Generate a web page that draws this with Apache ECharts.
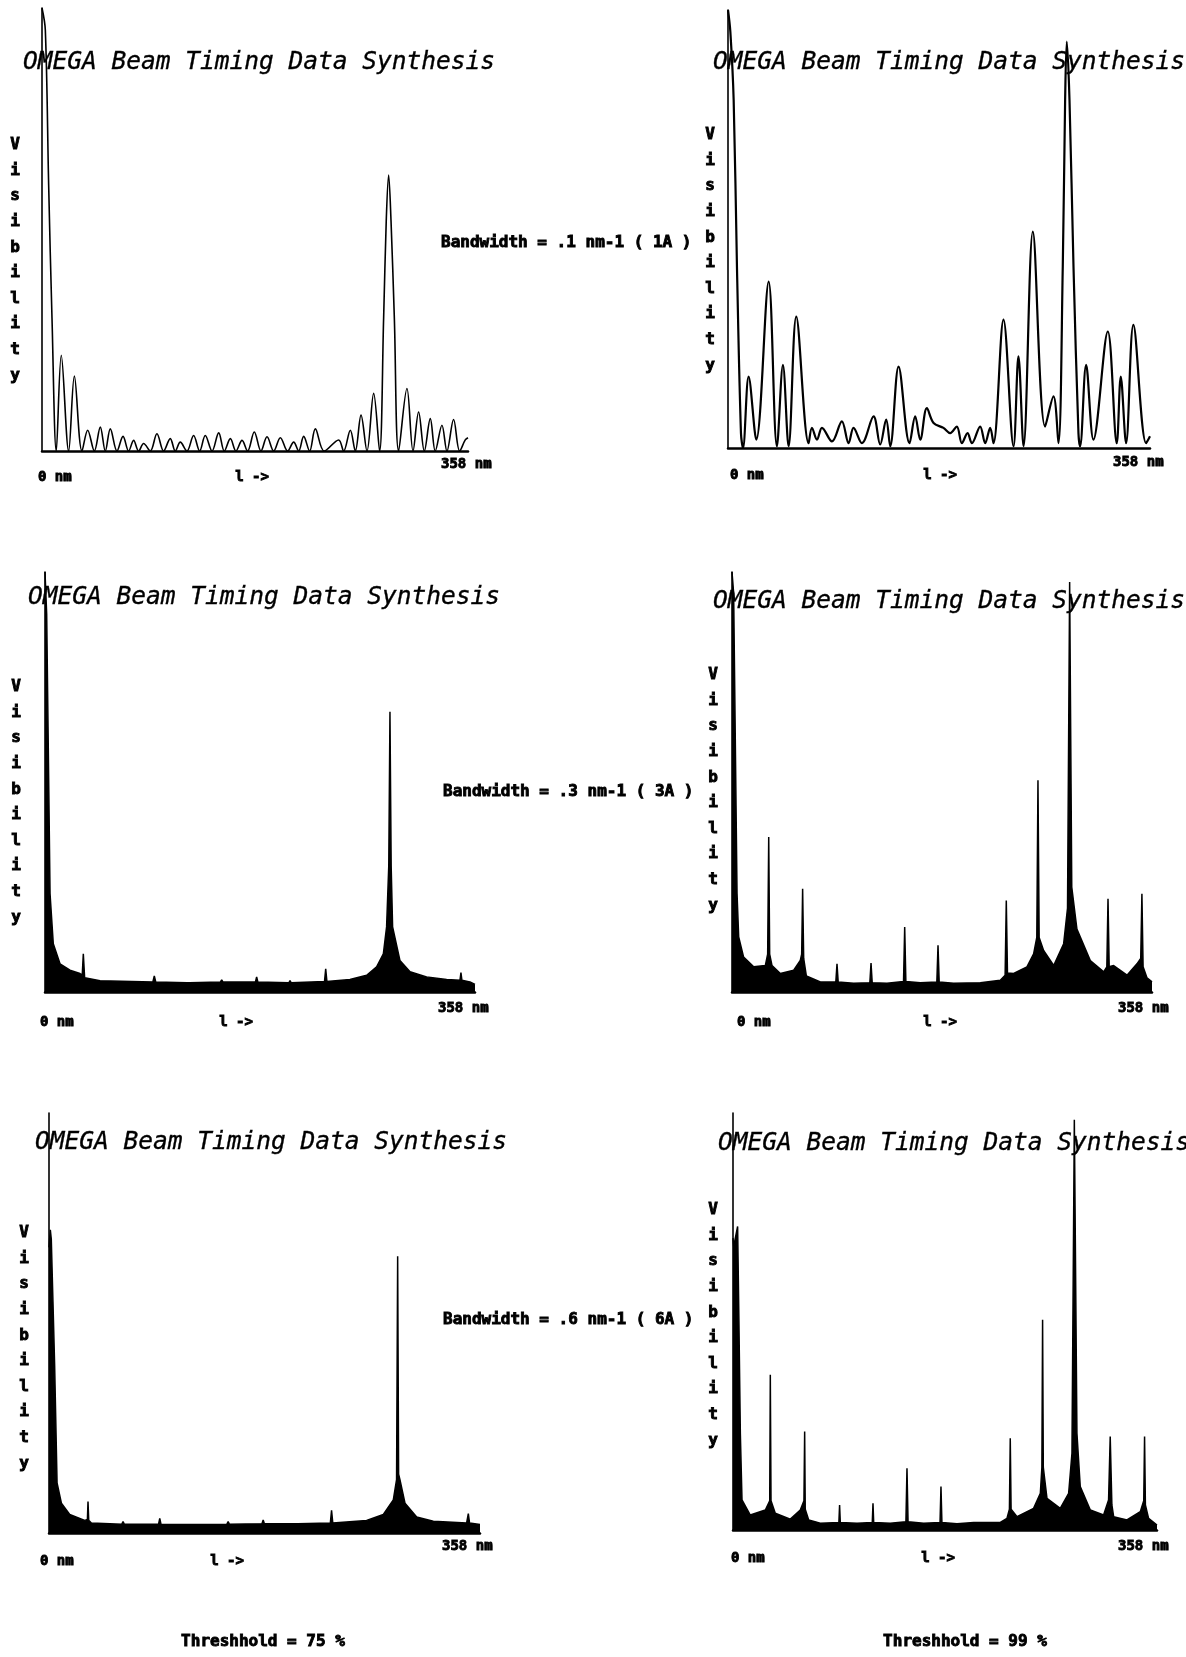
<!DOCTYPE html>
<html><head><meta charset="utf-8">
<script src="https://cdn.jsdelivr.net/npm/echarts@6/dist/echarts.min.js"></script>
<style>html,body{margin:0;padding:0;background:#fff}#c{width:1186px;height:1657px}</style>
</head><body><div id="c"></div>
<script>
// x = path difference (nm), y = visibility (fraction of axis height)
const p1Nm = [0,2.8,5.6,8.4,12.0,16.2,22.4,27.2,33.6,38.4,44.0,49.0,53.2,57.4,63.0,68.1,72.8,77.0,81.2,85.4,91.0,96.6,102.2,107.8,112.0,116.2,121.8,127.4,132.5,137.2,142.9,148.5,153.2,158.3,163.0,168.1,172.8,178.4,184.0,189.1,194.7,200.3,206.4,211.5,215.7,219.9,224.9,229.7,237.2,249.3,253.5,259.1,263.3,268.1,273.1,278.7,283.7,287.1,289.3,291.3,293.3,296.1,299.7,306.7,311.8,316.5,321.3,326.3,330.5,336.1,340.3,345.9,351.0,355.7,358];
const p1Vis = [1.0,0.95,0.6,0.3,0.0,0.216,0.0,0.169,0.0,0.047,0.0,0.054,0.0,0.05,0.0,0.033,0.0,0.024,0.0,0.017,0.0,0.039,0.0,0.028,0.0,0.02,0.0,0.035,0.0,0.035,0.0,0.041,0.0,0.028,0.0,0.024,0.0,0.043,0.0,0.032,0.0,0.030,0.0,0.02,0.0,0.033,0.0,0.05,0.0,0.025,0.0,0.047,0.0,0.081,0.0,0.130,0.0,0.3,0.52,0.623,0.52,0.3,0.0,0.141,0.0,0.088,0.0,0.073,0.0,0.058,0.0,0.071,0.0,0.025,0.03];

const p2Nm = [0,2.0,4.8,7.6,11.0,12.7,17.5,24.0,34.5,41.5,46.6,51.4,57.9,68.4,71.2,75.5,79.7,88.2,96.6,102.3,106.5,113.6,123.5,129.1,134.2,137.6,144.7,154.0,158.8,163.1,168.7,174.4,182.8,188.5,194.1,198.4,203.2,206.9,213.9,218.2,222.4,225.2,233.7,242.2,246.4,250.7,258.6,269.0,276.1,280.3,284.0,286.0,287.4,289.7,293.1,297.3,298.7,303.8,310.0,322.2,329.8,333.2,337.7,343.9,354.7,358];
const p2Vis = [1.0,0.95,0.795,0.414,0.034,0.0,0.163,0.019,0.380,0.004,0.190,0.004,0.300,0.011,0.046,0.019,0.046,0.015,0.061,0.011,0.046,0.011,0.072,0.008,0.065,0.004,0.186,0.011,0.072,0.019,0.091,0.057,0.046,0.034,0.049,0.011,0.034,0.011,0.049,0.011,0.046,0.011,0.293,0.004,0.209,0.004,0.494,0.049,0.118,0.011,0.414,0.795,0.928,0.795,0.414,0.034,0.004,0.190,0.019,0.266,0.011,0.163,0.011,0.281,0.011,0.027];

const p3Nm = [0,1.4,4.2,6.9,12.5,20.8,29.1,31.0,31.9,33.0,45.8,89.8,91.0,92.2,118.3,119.3,120.3,146.1,147.1,148.1,175.2,176.2,177.2,203.0,204.0,205.0,232.7,233.7,234.7,253.9,267.8,276.1,281.7,284.4,286.2,287.2,288.2,289.4,295.5,303.9,317.7,334.4,345.5,346.3,347.1,353.8,358];
const p3Vis = [1.0,0.9,0.234,0.115,0.067,0.052,0.044,0.04,0.091,0.034,0.027,0.024,0.038,0.024,0.022,0.025,0.022,0.024,0.029,0.024,0.024,0.036,0.024,0.022,0.027,0.022,0.025,0.055,0.025,0.030,0.040,0.060,0.091,0.155,0.30,0.667,0.30,0.155,0.075,0.048,0.036,0.030,0.028,0.046,0.028,0.024,0.018];

const p4Nm = [0,1.4,4.3,5.7,9.9,18.5,28.4,30.4,31.3,32.1,34.1,41.2,52.6,58.2,59.4,60.2,61.1,63.4,75.3,88.5,89.5,90.5,103.7,117.5,118.5,119.5,132.1,146.2,147.2,148.2,160.5,174.6,175.6,176.6,188.9,211.7,228.7,232.8,233.8,234.8,240.1,251.4,257.1,259.8,260.8,261.8,265.6,274.2,282.7,286.0,287.8,289.6,294.0,296.9,305.4,316.8,319.5,320.5,321.5,325.3,336.7,345.2,348.4,349.4,350.4,353.7,358];
const p4Vis = [1.0,0.95,0.234,0.131,0.083,0.060,0.063,0.09,0.369,0.09,0.063,0.044,0.052,0.075,0.09,0.246,0.08,0.038,0.024,0.024,0.067,0.024,0.021,0.022,0.069,0.022,0.021,0.025,0.155,0.025,0.022,0.024,0.111,0.024,0.021,0.022,0.028,0.04,0.218,0.045,0.044,0.060,0.091,0.13,0.504,0.13,0.099,0.063,0.115,0.2,0.976,0.25,0.15,0.131,0.075,0.048,0.06,0.222,0.06,0.063,0.040,0.067,0.08,0.234,0.06,0.034,0.024];

const p5Nm = [0,1.1,1.9,3.3,4.7,6.7,10.3,17.2,29.7,31.9,32.4,33.0,35.2,60.5,61.5,62.5,91.0,92.0,93.0,118.7,119.7,120.7,147.8,148.8,149.8,176.9,177.9,178.9,204.6,205.6,206.6,233.7,234.7,235.7,263.8,277.7,286.0,288.7,289.6,290.4,291.5,295.7,305.4,319.2,346.9,348.3,349.3,358];
const p5Vis = [0.68,0.722,0.70,0.55,0.397,0.119,0.071,0.044,0.030,0.032,0.075,0.030,0.024,0.021,0.027,0.021,0.021,0.035,0.021,0.02,0.024,0.02,0.021,0.027,0.021,0.022,0.031,0.022,0.022,0.026,0.022,0.024,0.054,0.024,0.030,0.044,0.079,0.127,0.659,0.14,0.127,0.071,0.038,0.028,0.024,0.046,0.024,0.02];

const p6Nm = [0,0.6,3.9,5.0,6.2,7.6,14.6,27.3,31.0,31.5,32.1,35.7,48.4,56.8,59.9,60.5,61.0,63.9,73.7,89.4,90.0,90.6,104.7,117.6,118.2,118.8,132.8,146.0,146.9,147.8,161.0,174.8,175.6,176.4,189.1,203.2,225.7,231.3,233.4,234.1,234.8,239.8,253.8,259.5,260.8,261.4,262.0,265.1,276.3,283.4,286.2,288.2,290.4,293.2,301.7,312.9,317.1,318.5,319.9,321.4,332.6,343.9,346.8,347.5,348.2,350.9,358];
const p6Vis = [0.70,0.68,0.728,0.5,0.232,0.072,0.036,0.048,0.07,0.372,0.07,0.04,0.026,0.048,0.07,0.236,0.05,0.024,0.016,0.018,0.06,0.018,0.016,0.018,0.064,0.018,0.016,0.02,0.148,0.02,0.016,0.018,0.104,0.018,0.015,0.018,0.018,0.028,0.05,0.22,0.05,0.032,0.052,0.088,0.15,0.504,0.15,0.076,0.052,0.088,0.184,0.984,0.232,0.104,0.048,0.036,0.072,0.224,0.06,0.032,0.024,0.044,0.07,0.224,0.06,0.028,0.012];

const titleText = 'OMEGA Beam Timing Data Synthesis';
const yLabelText = 'Visibility';
const xLabels = ['0 nm', 'l ->', '358 nm'];
const bandwidthLabels = ['Bandwidth = .1 nm-1 ( 1A )', 'Bandwidth = .3 nm-1 ( 3A )', 'Bandwidth = .6 nm-1 ( 6A )'];
const thresholdLabels = ['Threshhold = 75 %', 'Threshhold = 99 %'];

const panels = [
  {nm:p1Nm, vis:p1Vis, fill:false, smooth:0.35, lw:1.6, grid:{left:42,top:8,width:426,height:443},
   title:[23,63], vis_:[15,145], xl:[[38,477],[252,477],[441,464]]},
  {nm:p2Nm, vis:p2Vis, fill:false, smooth:0.35, lw:2.2, grid:{left:728,top:10,width:422,height:438},
   title:[713,63], vis_:[710,135], xl:[[730,475],[940,475],[1113,462]]},
  {nm:p3Nm, vis:p3Vis, fill:true, smooth:false, lw:1.5, grid:{left:45,top:572,width:430,height:420},
   title:[28,598], vis_:[16,687], xl:[[40,1022],[236,1022],[438,1008]]},
  {nm:p4Nm, vis:p4Vis, fill:true, smooth:false, lw:1.5, grid:{left:732,top:572,width:420,height:420},
   title:[713,602], vis_:[713,675], xl:[[737,1022],[940,1022],[1118,1008]]},
  {nm:p5Nm, vis:p5Vis, fill:true, smooth:false, lw:1.5, grid:{left:49,top:1113,width:431,height:420},
   title:[35,1143], vis_:[24,1233], xl:[[40,1561],[227,1561],[442,1546]]},
  {nm:p6Nm, vis:p6Vis, fill:true, smooth:false, lw:1.5, grid:{left:733,top:1113,width:424,height:417},
   title:[718,1144], vis_:[713,1210], xl:[[731,1558],[938,1558],[1118,1546]]}
];

const MONO = '"DejaVu Sans Mono", "Liberation Mono", monospace';
const heavy = {fill:'#000', stroke:'#000', lineWidth:0.9};
const grids = [], xAxes = [], yAxes = [], series = [], graphics = [];
function txt(x, y, text, font, align, vAlign, extra) {
  graphics.push({type:'text', x:x, y:y, silent:true,
    style:Object.assign({text:text, font:font, fill:'#000', align:align, verticalAlign:vAlign}, extra || {})});
}
panels.forEach((p, i) => {
  grids.push(Object.assign({containLabel:false}, p.grid));
  xAxes.push({type:'value', gridIndex:i, min:0, max:358,
    axisLine:{show:true, onZero:false, lineStyle:{color:'#000', width:2.5}},
    axisTick:{show:false}, axisLabel:{show:false}, splitLine:{show:false}});
  yAxes.push({type:'value', gridIndex:i, min:0, max:1,
    axisLine:{show:true, lineStyle:{color:'#000', width:1.6}},
    axisTick:{show:false}, axisLabel:{show:false}, splitLine:{show:false}});
  const s = {type:'line', xAxisIndex:i, yAxisIndex:i, data:p.nm.map((x, k) => [x, p.vis[k]]),
    showSymbol:false, symbol:'none', smooth:p.smooth, clip:true, silent:true, animation:false,
    lineStyle:{color:'#000', width:p.lw}};
  if (p.fill) s.areaStyle = {color:'#000', opacity:1};
  series.push(s);
  txt(p.title[0], p.title[1], titleText, 'italic 24.5px ' + MONO, 'left', 'middle', {stroke:'#000', lineWidth:0.35});
  txt(p.vis_[0], p.vis_[1] - 12.8, yLabelText.split('').join('\n'), 'bold 16px ' + MONO, 'center', 'top', Object.assign({lineHeight:25.6}, heavy));
  txt(p.xl[0][0], p.xl[0][1], xLabels[0], 'bold 14px ' + MONO, 'left', 'middle', heavy);
  txt(p.xl[1][0], p.xl[1][1], xLabels[1], 'bold 14px ' + MONO, 'center', 'middle', heavy);
  txt(p.xl[2][0], p.xl[2][1], xLabels[2], 'bold 14px ' + MONO, 'left', 'middle', heavy);
});
const bwPos = [[441,243],[443,792],[443,1320]];
bandwidthLabels.forEach((t, i) => txt(bwPos[i][0], bwPos[i][1], t, 'bold 16px ' + MONO, 'left', 'middle', heavy));
const thPos = [[263,1642],[965,1642]];
thresholdLabels.forEach((t, i) => txt(thPos[i][0], thPos[i][1], t, 'bold 16px ' + MONO, 'center', 'middle', heavy));

const chart = echarts.init(document.getElementById('c'), null, {renderer:'canvas'});
chart.setOption({backgroundColor:'#fff', animation:false, grid:grids, xAxis:xAxes, yAxis:yAxes, series:series, graphic:graphics});
</script></body></html>
